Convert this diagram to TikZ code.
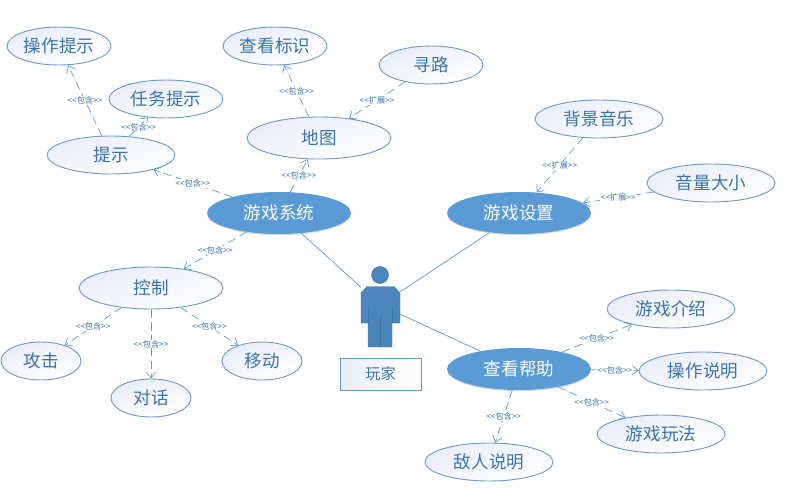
\documentclass[tikz,border=0pt]{standalone}
\usepackage{fontspec}
\setmainfont{Noto Sans CJK SC}
\usetikzlibrary{shapes.geometric,arrows.meta,shadows}

\definecolor{caseline}{HTML}{6F9BCB}
\definecolor{casefill}{HTML}{5B9BD5}
\definecolor{casetext}{HTML}{3A73AE}
\definecolor{casetint}{HTML}{E9EDF7}
\definecolor{actorfill}{HTML}{4A85BC}
\definecolor{actorline}{HTML}{41769F}

\newcommand{\inc}{<{}<包含>{}>}
\newcommand{\ext}{<{}<扩展>{}>}

\tikzset{
	usecase/.style={ellipse,draw=caseline,thick,inner sep=0pt,minimum width=#1*0.06cm,minimum height=1.14cm,
		left color=casetint,right color=white,shading angle=20,text=casetext,font=\fontsize{15}{18}\selectfont},
	maincase/.style={ellipse,draw=none,fill=casefill,inner sep=0pt,minimum width=4.32cm,minimum height=1.26cm,
		text=white,font=\fontsize{15}{18}\selectfont,drop shadow={shadow xshift=0pt,shadow yshift=-1pt,opacity=0.3}},
	rel/.style={draw=casefill,semithick,dash pattern=on 7pt off 4pt,-{Straight Barb[length=5pt,width=8pt]}},
	assoc/.style={draw=casefill,semithick},
	tag/.style={fill=white,inner sep=0.5pt,text=casetext,font=\fontsize{7}{8}\selectfont},
}

\begin{document}
\begin{tikzpicture}[x=0.03cm,y=-0.03cm]
\useasboundingbox (0,0) rectangle (789,497);

% main cases
\node[maincase] (xitong) at (279,213) {游戏系统};
\node[maincase] (shezhi) at (519,213) {游戏设置};
\node[maincase] (bangzhu) at (519,369) {查看帮助};

% cases
\node[usecase=52] (caozuo) at (59,46) {操作提示};
\node[usecase=57] (renwu) at (166,99) {任务提示};
\node[usecase=64] (tishi) at (111,155) {提示};
\node[usecase=52] (biaoshi) at (275,46) {查看标识};
\node[usecase=52] (xunlu) at (431,65) {寻路};
\node[usecase=72,minimum height=1.26cm] (ditu) at (319,138) {地图};
\node[usecase=64] (yinyue) at (599,119) {背景音乐};
\node[usecase=64] (yinliang) at (711,183) {音量大小};
\node[usecase=72,minimum height=1.26cm] (kongzhi) at (151,288) {控制};
\node[usecase=40] (gongji) at (41,361) {攻击};
\node[usecase=40] (duihua) at (151,398) {对话};
\node[usecase=40] (yidong) at (262,361) {移动};
\node[usecase=64] (jieshao) at (671,309) {游戏介绍};
\node[usecase=64] (shuoming) at (703,371) {操作说明};
\node[usecase=64] (wanfa) at (661,434) {游戏玩法};
\node[usecase=64] (diren) at (489,462) {敌人说明};

% actor
\node[minimum width=1.17cm,minimum height=1.08cm,inner sep=0pt] (actor) at (380.5,305) {};
\fill[actorfill,draw=actorline] (380,275) circle (8.5);
\draw[fill=actorfill,draw=actorline] (367,286.5) -- (394,286.5) -- (400,293) -- (400,323) -- (392,323) -- (392,347)
	-- (368,347) -- (368,323) -- (361,323) -- (361,293) -- cycle;
\draw[actorline] (368,307) -- (368,323);
\draw[actorline] (392,307) -- (392,323);
\draw[actorline] (380,315) -- (380,347);
\node[rectangle,draw=casefill,thick,minimum width=2.43cm,minimum height=0.96cm,inner sep=0pt,
	left color=casetint,right color=white,text=casetext,font=\fontsize{13}{16}\selectfont] (wanjia) at (380.5,374) {玩家};

\foreach \c in {xitong,shezhi,bangzhu}{
	\draw[assoc] (actor) -- (\c);
	}

% include
\draw[rel] (tishi) -- node[tag] {\inc} (caozuo);
\draw[rel] (tishi) -- node[tag] {\inc} (renwu);
\draw[rel] (xitong) -- node[tag] {\inc} (tishi);
\draw[rel] (xitong) -- node[tag] {\inc} (ditu);
\draw[rel] (ditu) -- node[tag] {\inc} (biaoshi);
\draw[rel] (xitong) -- node[tag] {\inc} (kongzhi);
\draw[rel] (kongzhi) -- node[tag] {\inc} (gongji);
\draw[rel] (kongzhi) -- node[tag] {\inc} (duihua);
\draw[rel] (kongzhi) -- node[tag] {\inc} (yidong);
\draw[rel] (bangzhu) -- node[tag] {\inc} (jieshao);
\draw[rel] (bangzhu) -- node[tag] {\inc} (shuoming);
\draw[rel] (bangzhu) -- node[tag] {\inc} (wanfa);
\draw[rel] (bangzhu) -- node[tag] {\inc} (diren);

% extend
\draw[rel] (xunlu) -- node[tag] {\ext} (ditu);
\draw[rel] (yinyue) -- node[tag] {\ext} (shezhi);
\draw[rel] (yinliang) -- node[tag] {\ext} (shezhi);
\end{tikzpicture}
\end{document}
